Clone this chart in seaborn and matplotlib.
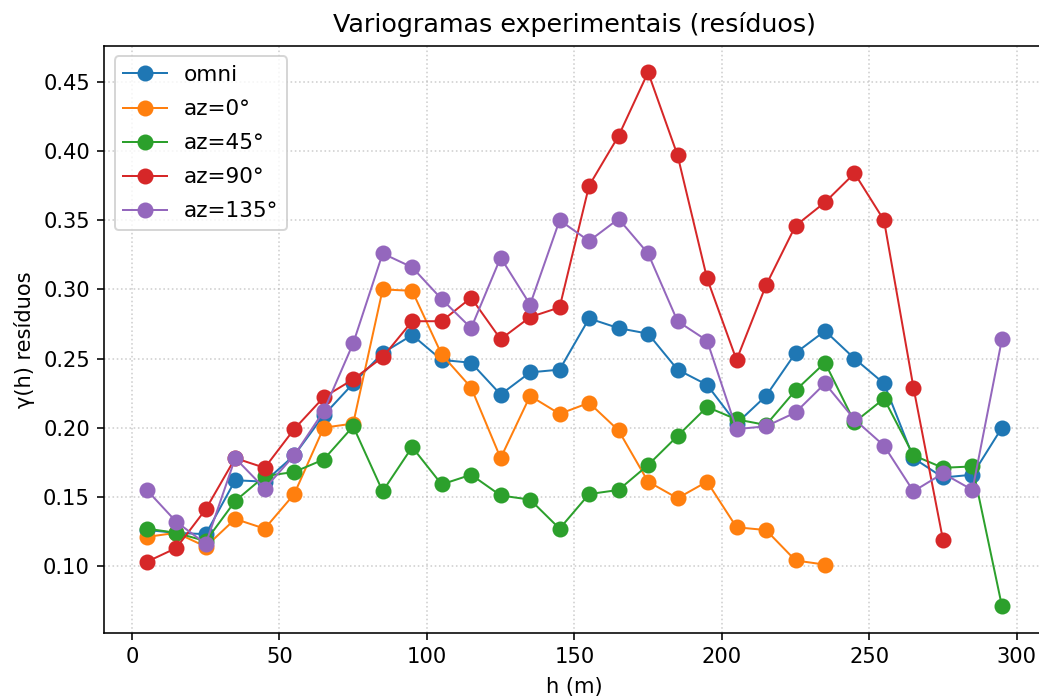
import numpy as np
import pandas as pd
import matplotlib
matplotlib.use("Agg")
import matplotlib.pyplot as plt
import seaborn as sns

h_all = [5, 15, 25, 35, 45, 55, 65, 75, 85, 95, 105, 115, 125, 135, 145,
         155, 165, 175, 185, 195, 205, 215, 225, 235, 245, 255, 265, 275, 285, 295]

omni = [0.126, 0.124, 0.123, 0.162, 0.161, 0.180, 0.209, 0.232, 0.254, 0.267,
        0.249, 0.247, 0.224, 0.240, 0.242, 0.279, 0.272, 0.268, 0.242, 0.231,
        0.203, 0.223, 0.254, 0.270, 0.250, 0.232, 0.178, 0.164, 0.166, 0.200]
az0 = [0.121, 0.124, 0.114, 0.134, 0.127, 0.152, 0.200, 0.203, 0.300, 0.299,
       0.253, 0.229, 0.178, 0.223, 0.210, 0.218, 0.198, 0.161, 0.149, 0.161,
       0.128, 0.126, 0.104, 0.101]
az45 = [0.127, 0.124, 0.118, 0.147, 0.165, 0.168, 0.177, 0.201, 0.154, 0.186,
        0.159, 0.166, 0.151, 0.148, 0.127, 0.152, 0.155, 0.173, 0.194, 0.215,
        0.206, 0.202, 0.227, 0.247, 0.204, 0.221, 0.180, 0.171, 0.172, 0.071]
az90 = [0.103, 0.113, 0.141, 0.178, 0.171, 0.199, 0.222, 0.235, 0.251, 0.277,
        0.277, 0.294, 0.264, 0.280, 0.287, 0.375, 0.411, 0.457, 0.397, 0.308,
        0.249, 0.303, 0.346, 0.363, 0.384, 0.350, 0.229, 0.119]
az135 = [0.155, 0.132, 0.116, 0.178, 0.156, 0.180, 0.212, 0.261, 0.326, 0.316,
         0.293, 0.272, 0.323, 0.289, 0.350, 0.335, 0.351, 0.326, 0.277, 0.263,
         0.199, 0.201, 0.211, 0.232, 0.206, 0.187, 0.154, 0.167, 0.155, 0.264]

series_names = ["omni", "az=0°", "az=45°", "az=90°", "az=135°"]
series_values = [omni, az0, az45, az90, az135]

rows = []
for name, vals in zip(series_names, series_values):
    for hv, gv in zip(h_all, vals):
        rows.append({"h": hv, "gamma": gv, "serie": name})
df = pd.DataFrame(rows)

colors = sns.color_palette("tab10", 5)

fig = plt.figure(figsize=(1039 / 144, 697 / 144), dpi=144)
ax = fig.add_axes([104 / 1039, (697 - 632.8) / 697, 940.7 / 1039, 587.2 / 697])

for name, col in zip(series_names, colors):
    sub = df[df["serie"] == name]
    sns.lineplot(data=sub, x="h", y="gamma", ax=ax, color=col, label=name,
                 marker="o", markersize=7, markeredgecolor=col,
                 markeredgewidth=1, linewidth=1.0, sort=False)

ax.margins(x=0.05, y=0.05)
ax.set_title("Variogramas experimentais (resíduos)", fontsize=12.7, pad=7)
ax.set_xlabel("h (m)", fontsize=10.5, labelpad=5)
ax.set_ylabel("γ(h) resíduos", fontsize=10.5)
ax.set_xticks([0, 50, 100, 150, 200, 250, 300])
ax.set_yticks([0.10, 0.15, 0.20, 0.25, 0.30, 0.35, 0.40, 0.45])
ax.set_yticklabels([f"{v:.2f}" for v in [0.10, 0.15, 0.20, 0.25, 0.30, 0.35, 0.40, 0.45]])
ax.tick_params(labelsize=10.5)
ax.grid(True, linestyle=":", linewidth=0.8, color="#b0b0b0", alpha=0.6)
ax.legend(loc="upper left", fontsize=10.8, labelspacing=0.65)

fig.savefig("out.png", dpi=144)
